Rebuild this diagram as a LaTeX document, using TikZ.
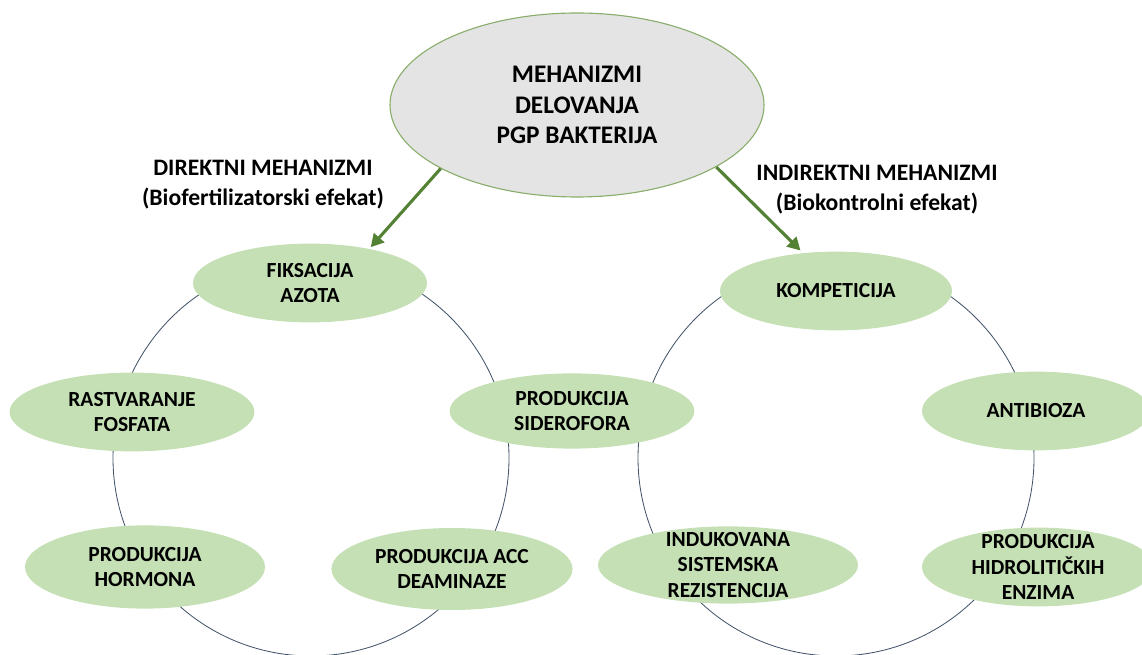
\documentclass[tikz,border=0pt]{standalone}
\usepackage{fontspec}
\setmainfont{Carlito}
\usepackage{xcolor}
\usetikzlibrary{arrows.meta, shapes.geometric}
\definecolor{effectgreen}{HTML}{C5E0B4}
\definecolor{rootgray}{HTML}{E4E4E4}
\definecolor{rootedge}{HTML}{8AAE6C}
\definecolor{arrowgreen}{HTML}{548235}
\definecolor{ringblue}{HTML}{44546A}

\begin{document}
\begin{tikzpicture}[
    root/.style={ellipse, draw=rootedge, line width=0.8pt, fill=rootgray, minimum width=9.35cm, minimum height=4.6cm, align=center, font=\fontsize{18}{21.6}\selectfont\bfseries},
    effect/.style={ellipse, fill=effectgreen, minimum width=#1, minimum height=1.97cm, inner xsep=0pt, inner ysep=-0.3cm, align=center, font=\fontsize{15.3}{18}\selectfont\bfseries},
    effect/.default=5.9cm,
    branch/.style={align=center, font=\fontsize{16.8}{21.3}\selectfont\bfseries},
    ring/.style={draw=ringblue, line width=0.6pt},
    feed/.style={draw=arrowgreen, line width=2.2pt, -{Triangle[length=0.32cm, width=0.34cm]}},
]
    \useasboundingbox (0,0) rectangle (28.55,16.375);
    \clip (0,0) rectangle (28.55,16.375);

    % the two rings behind the effects
    \coordinate (lc) at (7.775,4.925);
    \coordinate (rc) at (20.9,4.925);
    \draw[ring] (lc) circle (4.95cm);
    \draw[ring] (rc) circle (4.95cm);

    \node[root] (mech) at (14.425,13.75) {MEHANIZMI\\DELOVANJA\\PGP BAKTERIJA};

    \node[branch] (direct) at (6.575,11.75) {DIREKTNI MEHANIZMI\\(Biofertilizatorski efekat)};
    \node[branch] (indirect) at (21.925,11.625) {INDIREKTNI MEHANIZMI\\(Biokontrolni efekat)};

    % direktni
    \node[effect=5.85cm] (fiks) at (7.75,9.3) {FIKSACIJA\\AZOTA};
    \node[effect=6.12cm] (rast) at (3.3,6.075) {RASTVARANJE\\FOSFATA};
    \node[effect=6.0cm, minimum height=2.08cm] (horm) at (3.625,2.2) {PRODUKCIJA\\HORMONA};
    \node[effect=6.03cm, minimum height=2.05cm] (acc) at (11.3,2.15) {PRODUKCIJA ACC\\DEAMINAZE};
    \node[effect=6.12cm, minimum height=1.88cm] (sider) at (14.3,6.1) {PRODUKCIJA\\SIDEROFORA};

    % indirektni
    \node[effect=5.8cm] (komp) at (20.9,9.1) {KOMPETICIJA};
    \node[effect=5.7cm] (antib) at (25.9,6.1) {ANTIBIOZA};
    \node[effect=6.5cm, minimum height=1.93cm] (indu) at (18.2,2.25) {INDUKOVANA\\SISTEMSKA\\REZISTENCIJA};
    \node[effect=5.8cm] (hidro) at (25.95,2.2) {PRODUKCIJA\\HIDROLITIČKIH\\ENZIMA};

    \draw[feed, shorten >=1.5pt] (mech.205) -- (fiks.30);
    \draw[feed, shorten >=2.5pt] (mech.336) -- (komp.131);
\end{tikzpicture}
\end{document}
